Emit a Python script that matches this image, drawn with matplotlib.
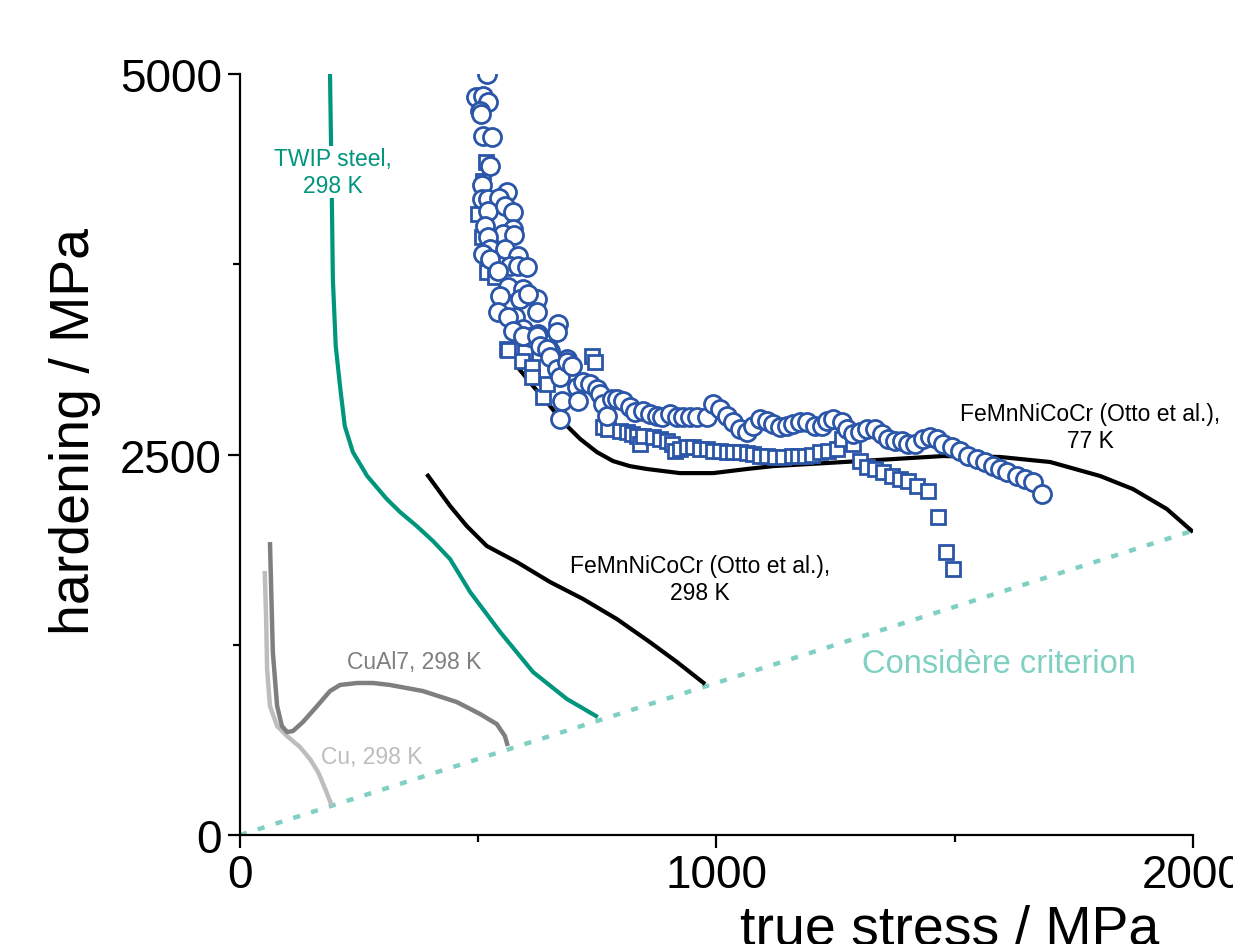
import matplotlib
matplotlib.use("Agg")
import matplotlib.pyplot as plt
from matplotlib.ticker import MultipleLocator

plt.rcParams['font.family'] = ['Liberation Sans', 'DejaVu Sans']

# --- line data (true stress / MPa, hardening / MPa) ---
twip_x = [189, 193, 195, 201, 210, 220, 237, 267, 308, 336, 371, 405, 441, 483, 546, 615, 686, 751]
twip_y = [5000, 4146, 3653, 3213, 2950, 2687, 2516, 2359, 2208, 2122, 2030, 1932, 1813, 1597,
          1334, 1071, 894, 775]

hea298_x = [392, 441, 476, 518, 581, 651, 720, 791, 860, 917, 976]
hea298_y = [2372, 2162, 2030, 1899, 1794, 1662, 1551, 1419, 1268, 1137, 992]

hea77_x = [581, 615, 644, 676, 714, 749, 783, 818, 854, 923, 993, 1064, 1119, 1301, 1475,
           1595, 1700, 1805, 1874, 1945, 2000]
hea77_y = [3081, 2950, 2845, 2720, 2602, 2516, 2457, 2424, 2405, 2378, 2378, 2405, 2424,
           2457, 2490, 2484, 2451, 2359, 2273, 2142, 1991]

cual7_x = [63, 69, 78, 88, 99, 111, 132, 162, 189, 210, 246, 279, 315, 384, 455, 504, 539,
           556, 562]
cual7_y = [1925, 1202, 848, 716, 677, 683, 742, 848, 946, 986, 999, 999, 986, 946, 874, 795,
           729, 650, 585]

cu_x = [52, 55, 57, 63, 78, 99, 126, 147, 164, 179, 193]
cu_y = [1735, 1419, 1091, 848, 716, 650, 578, 499, 414, 302, 191]

consid_x = [0, 2000]
consid_y = [0, 2000]

# --- scatter data, 77 K experiments ---
circ_x = [518, 495, 510, 520, 504, 506, 510, 529, 525, 508, 508, 520, 560, 544, 520, 556,
          573, 514, 573, 552, 575, 520, 525, 510, 556, 583, 525, 567, 583, 602, 541, 562,
          594, 546, 623, 588, 604, 541, 577, 562, 623, 594, 667, 609, 625, 644, 651, 686,
          573, 594, 623, 630, 644, 651, 665, 665, 672, 686, 697, 676, 672, 707, 709, 720,
          735, 749, 755, 762, 770, 781, 791, 804, 818, 829, 846, 860, 875, 886, 902, 917,
          930, 944, 959, 980, 993, 1007, 1022, 1035, 1049, 1064, 1077, 1091, 1106, 1119, 1133,
          1148, 1161, 1175, 1190, 1207, 1221, 1232, 1244, 1263, 1274, 1286, 1301, 1316, 1333,
          1347, 1360, 1375, 1389, 1402, 1417, 1433, 1448, 1463, 1475, 1494, 1511, 1528, 1547,
          1563, 1580, 1595, 1610, 1631, 1647, 1664, 1683]
circ_y = [5000, 4850, 4855, 4815, 4757, 4737, 4592, 4586, 4395, 4271, 4179, 4179, 4225, 4185,
          4100, 4133, 4093, 4000, 3981, 3949, 3942, 3929, 3850, 3817, 3850, 3804, 3784, 3738,
          3738, 3732, 3705, 3600, 3587, 3541, 3522, 3522, 3554, 3436, 3403, 3403, 3436, 3324,
          3357, 3272, 3292, 3226, 3180, 3127,
          3311, 3278, 3278, 3213, 3193, 3140, 3305, 3062, 3009, 3108, 3081, 2851, 2733, 2943,
          2851, 2976, 2963, 2930, 2897, 2832, 2753, 2865, 2865, 2851, 2812, 2779, 2786, 2766,
          2753, 2746, 2766, 2746, 2746, 2746, 2746, 2746, 2832, 2799, 2753, 2713, 2667, 2648,
          2687, 2733, 2720, 2700, 2681, 2687, 2700, 2713, 2713, 2687, 2687, 2720, 2733, 2713,
          2667, 2635, 2648, 2667, 2667, 2635, 2602, 2589, 2589, 2569, 2569, 2602, 2615, 2602,
          2569, 2549, 2523, 2490, 2470, 2451, 2424, 2405, 2385, 2359, 2339, 2319, 2240]

sq_x = [516, 510, 499, 508, 518, 535, 560, 598, 562, 592, 613, 613, 636, 644, 739, 745,
        762, 772, 797, 812, 823, 833, 839, 846, 867, 881, 896, 907, 913, 923, 938, 951, 965,
        980, 993, 1007, 1022, 1035, 1049, 1064, 1077, 1091, 1106, 1123, 1140, 1158, 1171,
        1186, 1200, 1217, 1234, 1253, 1263, 1286, 1301, 1316, 1333, 1349, 1368, 1385, 1402,
        1421, 1444, 1465, 1482, 1496]
sq_y = [4422, 4297, 4080, 3929, 3699, 3666, 3193, 3173, 3186, 3114, 3075, 3009, 2878, 2963,
        3147, 3108, 2681, 2667, 2654, 2648, 2635, 2621, 2569, 2621, 2615, 2602, 2589, 2569,
        2523, 2536, 2549, 2549, 2536, 2536, 2523, 2523, 2516, 2516, 2516, 2510, 2503, 2490,
        2490, 2483, 2483, 2490, 2490, 2490, 2497, 2516, 2523, 2536, 2602, 2569, 2457, 2418,
        2405, 2385, 2359, 2339, 2326, 2293, 2260, 2089, 1859, 1748]

blue = '#2a55a8'
green = '#00957d'
teal = '#7fd0c2'

fig = plt.figure(figsize=(12.33, 9.45), dpi=100)
ax = fig.add_axes([0.1946, 0.1153, 0.7730, 0.8053])

line_kw = dict(solid_joinstyle='round', solid_capstyle='butt', zorder=2)
ax.plot(consid_x, consid_y, color=teal, lw=3.2, ls=(0, (1.6, 2.6)), zorder=1)
ax.plot(cu_x, cu_y, color='#bdbdbd', lw=3.2, **line_kw)
ax.plot(cual7_x, cual7_y, color='#7f7f7f', lw=3.2, **line_kw)
ax.plot(twip_x, twip_y, color=green, lw=3.0, **line_kw)
ax.plot(hea298_x, hea298_y, color='black', lw=3.0, **line_kw)
ax.plot(hea77_x, hea77_y, color='black', lw=3.0, **line_kw)

ax.plot(sq_x, sq_y, ls='none', marker='s', ms=10, mfc='white', mec=blue, mew=2, zorder=3)
ax.plot(circ_x, circ_y, ls='none', marker='o', ms=13, mfc='white', mec=blue, mew=2, zorder=4)

ax.text(195, 4356, 'TWIP steel,\n298 K', color=green, fontsize=16.5, ha='center', va='center',
        linespacing=1.2, zorder=5,
        bbox=dict(facecolor='white', edgecolor='none', pad=1))
ax.text(965, 1682, 'FeMnNiCoCr (Otto et al.),\n298 K', color='black', fontsize=16.5,
        ha='center', va='center', linespacing=1.2)
ax.text(1784, 2681, 'FeMnNiCoCr (Otto et al.),\n77 K', color='black', fontsize=16.5,
        ha='center', va='center', linespacing=1.2)
ax.text(365, 1137, 'CuAl7, 298 K', color='#7f7f7f', fontsize=16.5, ha='center', va='center')
ax.text(277, 519, 'Cu, 298 K', color='#bdbdbd', fontsize=16.5, ha='center', va='center')
ax.text(1593, 1130, 'Considère criterion', color=teal, fontsize=23.5, ha='center', va='center')

ax.set_xlim(0, 2000)
ax.set_ylim(0, 5000)
ax.xaxis.set_major_locator(MultipleLocator(1000))
ax.xaxis.set_minor_locator(MultipleLocator(500))
ax.yaxis.set_major_locator(MultipleLocator(2500))
ax.yaxis.set_minor_locator(MultipleLocator(1250))
for s in ['top', 'right']:
    ax.spines[s].set_visible(False)
for s in ['left', 'bottom']:
    ax.spines[s].set_linewidth(1.6)
ax.tick_params(which='major', direction='out', length=9, width=1.6, labelsize=33, pad=4)
ax.tick_params(which='minor', direction='out', length=5, width=1.6)

fig.text(75 / 1233, 1 - 432 / 945, 'hardening / MPa', rotation=90, fontsize=40,
         ha='center', va='center')
fig.text(950 / 1233, 1 - 905 / 945, 'true stress / MPa', fontsize=40, ha='center', va='top')

fig.savefig('out.png', dpi=100)
